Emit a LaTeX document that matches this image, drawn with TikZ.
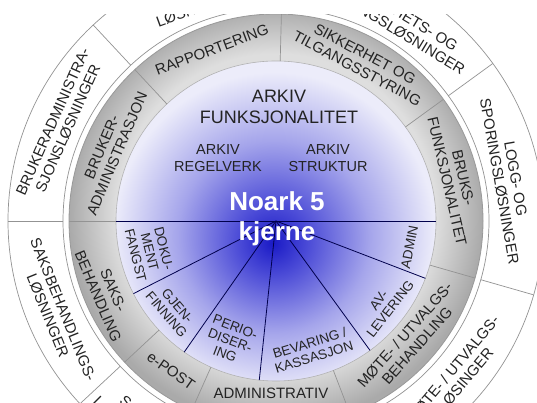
\documentclass[tikz,border=0pt]{standalone}
\usepackage{fontspec}
\setmainfont{Liberation Sans}

\definecolor{ringin}{RGB}{222,222,222}
\definecolor{ringout}{RGB}{170,170,170}
\definecolor{discA}{RGB}{26,26,198}
\definecolor{discB}{RGB}{76,76,215}
\definecolor{discC}{RGB}{165,165,235}
\definecolor{discD}{RGB}{236,236,250}
\definecolor{labelgray}{RGB}{35,35,35}

% a circle's edge lies at 25bp of a radial shading
\pgfdeclareradialshading{discshade}{\pgfpoint{-0.5bp}{-3.5bp}}{color(0bp)=(discA); color(5.5bp)=(discB); color(15bp)=(discC); color(25bp)=(discD); color(50bp)=(discD)}
\pgfdeclareradialshading{ringshade}{\pgfpoint{0bp}{1.5bp}}{color(0bp)=(ringin); color(19.3bp)=(ringin); color(25bp)=(ringout); color(50bp)=(ringout)}

\tikzstyle{ringlabel} = [align=center, inner sep=0pt, text=labelgray, font=\fontsize{15}{16.5}\selectfont]
\tikzstyle{sectorlabel} = [align=center, inner sep=0pt, text=labelgray, font=\fontsize{13.5}{14.5}\selectfont]
\tikzstyle{arkivlabel} = [align=center, inner sep=0pt, text=labelgray, font=\fontsize{14.5}{17}\selectfont]
\tikzstyle{titlelabel} = [align=center, inner sep=0pt, text=labelgray, font=\fontsize{18}{21.5}\selectfont]
\tikzstyle{kjernelabel} = [align=center, inner sep=0pt, text=white, font=\bfseries\fontsize{26}{30}\selectfont]
\tikzstyle{ringline} = [draw=gray!85, line width=0.7pt]
\tikzstyle{ray} = [draw=blue!30!black, line width=0.8pt]

\begin{document}
\begin{tikzpicture}[x=1pt, y=1pt]
	\useasboundingbox (0,0) rectangle (537,403);
	\clip (0,0) rectangle (537,388);
	\begin{scope}[shift={(276,182)}]
		% rings
		\draw[ringline, fill=white] (0,0) circle[radius=268pt];
		\draw[ringline] (0,0) circle[radius=213pt];
		\shadedraw[shading=ringshade, draw=gray!80, line width=0.8pt] (0,0) circle[radius=207pt];
		\shadedraw[shading=discshade, draw=gray!60, line width=0.6pt] (0,0) circle[radius=160pt];
		
		\foreach \a in {36,88.5,133,180,223,246,291,344} {
			\draw[ringline] (\a:160) -- (\a:207);
			\draw[ringline] (\a:213) -- (\a:268);
		}
		
		% core sectors
		\draw[ray] (180:160) -- (0:160);
		\foreach \a in {207,235,264,306,339}
			\draw[ray] (0,0) -- (\a:160);
		
		% outer ring
		\node[ringlabel, rotate=66] (bradmlos) at (156:236) {BRUKERADMINISTRA-\\SJONSLØSNINGER};
		\node[ringlabel, rotate=20] (rapplos) at (110:227) {LØSNINGER};
		\node[ringlabel, rotate=-31.3] (sikklos) at (58.7:234) {SIKKERHETS- OG\\TILGANGSLØSNINGER};
		\node[ringlabel, rotate=-80] (logglos) at (10:235) {LOGG- OG\\SPORINGSLØSNINGER};
		\node[ringlabel, rotate=50] (motelos) at (-40:239) {MØTE- / UTVALGS-\\LØSINGER};
		\node[ringlabel, rotate=-68] (sakslos) at (202.6:239) {SAKSBEHANDLINGS-\\LØSNINGER};
		\node[ringlabel, rotate=-40] (epostlos) at (230.3:235) {S};
		\node[ringlabel, rotate=-45] (epostlos2) at (225.6:253) {L};
		
		% gray ring
		\node[ringlabel, rotate=20.5] (rapp) at (110.5:183) {RAPPORTERING};
		\node[ringlabel, rotate=-28] (sikk) at (62:181) {SIKKERHET OG\\TILGANGSSTYRING};
		\node[ringlabel, rotate=-77] (bruks) at (13:184) {BRUKS-\\FUNKSJONALITET};
		\node[ringlabel, rotate=48.5] (mote) at (-41.5:180) {MØTE- / UTVALGS-\\BEHANDLING};
		\node[ringlabel] (adm) at (268.3:172) {ADMINISTRATIV};
		\node[ringlabel, rotate=-35] (epost) at (235:183) {e-POST};
		\node[ringlabel, rotate=-67] (saks) at (203:185) {SAKS-\\BEHANDLING};
		\node[ringlabel, rotate=67] (bruker) at (157:181) {BRUKER-\\ADMINISTRASJON};
		
		% core
		\node[titlelabel] (funk) at (3,114) {ARKIV\\FUNKSJONALITET};
		\node[arkivlabel] (regel) at (-58,63) {ARKIV\\REGELVERK};
		\node[arkivlabel] (strukt) at (52,63) {ARKIV\\STRUKTUR};
		\node[kjernelabel] (kjerne) at (1,2) {Noark 5\\kjerne};
		
		\node[sectorlabel, rotate=-76] (doku) at (193.8:130) {DOKU-\\MENT\\FANGST};
		\node[sectorlabel, rotate=-49.4] (gjen) at (220.6:137) {GJEN-\\FINNING};
		\node[sectorlabel, rotate=-21] (perio) at (249:128) {PERIO-\\DISER-\\ING};
		\node[sectorlabel, rotate=17] (bev) at (285.5:134) {BEVARING /\\KASSASJON};
		\node[sectorlabel, rotate=52.4] (avlev) at (-37.6:137) {AV-\\LEVERING};
		\node[sectorlabel, rotate=79] (admin) at (-11:136) {ADMIN};
	\end{scope}
\end{tikzpicture}
\end{document}
